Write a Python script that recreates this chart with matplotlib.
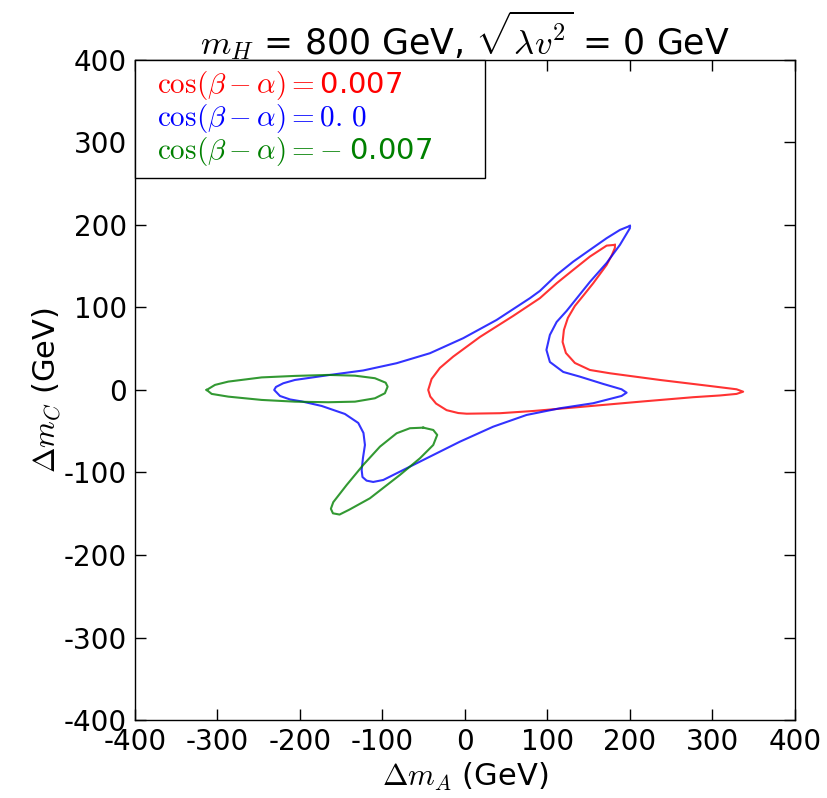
import numpy as np
import matplotlib
matplotlib.use('Agg')
import matplotlib.pyplot as plt

plt.rcParams['mathtext.fontset'] = 'cm'
plt.rcParams['axes.unicode_minus'] = False
plt.rcParams['font.family'] = 'DejaVu Sans'

# cos(beta-alpha) = 0.007 (closed curve)
red_x = [181.8, 171.8, 151.5, 131.3, 111.2, 90.9, 58.5, 18.2, -14.2, -30.3, -40.4, -44.5,
         -42, -35, -22.2, -8, 2.1, 42.4, 82.8, 135.4, 216.1, 276.7, 309.1, 329.3, 337.3, 329.3,
         297, 236.4, 175.8, 151.5, 133.3, 122.4, 118.4, 120, 124.8, 133.3, 144.2, 155.5,
         171.8, 178.2, 181.8, 181.8]
red_y = [175.8, 174.9, 161.6, 145.5, 129.3, 111.2, 89.7, 64.2, 40.4, 26.7, 13.3, 0,
         -8, -16.5, -24.5, -28, -28.8, -28.2, -25.5, -21, -13.9, -8.8, -6.7, -4.8, -2.1, 0.8,
         4.8, 12.1, 20.2, 24.2, 32.7, 44.8, 58.2, 72.7, 87.3, 101.8, 115.2, 129.3,
         151.5, 163.6, 172.1, 175.8]

# cos(beta-alpha) = 0.0 (closed curve)
blue_x = [200, 187.9, 171.8, 151.5, 131.3, 111.2, 90.9, 78.8, 38.4, -2.1, -42.4, -82.8,
          -123.3, -163.6, -206.1, -220.2, -229.1, -231.2, -224.2, -212.1, -197.9, -173.7,
          -145.5, -129.3, -123, -121.2, -123.6, -125.2, -124.2, -119.2, -111.2, -99, -78.8,
          -46.4, -6.1, 34.3, 74.8, 115.2, 155.5, 175.8, 189.9, 196, 189.9, 167.6, 139.4,
          119.2, 103, 98.8, 103, 111.2, 123.3, 151.5, 171.8, 187.9, 200, 200]
blue_y = [198.8, 193.9, 183.9, 169.7, 155.5, 139.4, 120, 111.2, 84.8, 62.7, 44.5, 32.4,
          23.6, 18.2, 12.1, 8.1, 3.6, 0, -7.3, -11.5, -13.9, -19.4,
          -29.1, -40, -52.1, -66.7, -82.4, -97, -105.5, -109.9, -111.5, -109.1, -99,
          -82.8, -62.7, -44.5, -30.3, -22.2, -16.1, -10.9, -7.3, -3.3, 0.8, 7.3, 16.1,
          21.8, 33.9, 48.5, 66.7, 82.4, 95.8, 130.9, 153.9, 175.8, 196, 198.8]

# cos(beta-alpha) = -0.007, two separate loops
green1_x = [-313.1, -303, -286.9, -246.4, -206.1, -165.7, -133.3, -109.1, -96.1, -93.7,
            -97, -109.1, -133.3, -165.7, -206.1, -246.4, -286.9, -307, -313.1]
green1_y = [0, 6.1, 10.1, 15.2, 17, 18.2, 17.3, 14.2, 8.8, 4,
            -4, -10.1, -14.2, -14.9, -14.2, -12.1, -8.1, -4.8, 0]
green2_x = [-50.5, -38.4, -33.6, -38.4, -54.5, -78.8, -115.2, -140, -152, -160, -162.5,
            -159.6, -143.4, -123.3, -103, -82.8, -66.7, -50.5]
green2_y = [-45.7, -48.5, -54.5, -66.7, -82.8, -103, -131.3, -145, -151, -149.5, -144,
            -136, -115.2, -90.9, -68.7, -52.5, -46.4, -45.7]

ticks = np.arange(-400, 401, 100)

fig = plt.figure(figsize=(8.28, 7.98), dpi=100)
ax = fig.add_axes([0.163, 0.0977, 0.797, 0.8273])

ax.plot(red_x, red_y, color='r', lw=1.5, alpha=0.8, label=r'$\cos(\beta-\alpha) = $0.007')
ax.plot(blue_x, blue_y, color='b', lw=1.5, alpha=0.8, label=r'$\cos(\beta-\alpha) = 0.\,0$')
ax.plot(green1_x, green1_y, color='g', lw=1.5, alpha=0.8, label=r'$\cos(\beta-\alpha) = -\;$0.007')
ax.plot(green2_x, green2_y, color='g', lw=1.5, alpha=0.8)

ax.set_xlim(-400, 400)
ax.set_ylim(-400, 400)
ax.set_xticks(ticks)
ax.set_yticks(ticks)
ax.tick_params(direction='in', top=True, right=True, length=8, width=1, labelsize=20, pad=6)
for s in ax.spines.values():
    s.set_linewidth(1)

ax.set_xlabel(r'$\Delta m_A$ (GeV)', fontsize=22, labelpad=3)
ax.set_ylabel(r'$\Delta m_C$ (GeV)', fontsize=22, labelpad=0)
ax.set_title(r'$m_H$ = 800 GeV, $\sqrt{\lambda v^2}$ = 0 GeV', fontsize=25, pad=4)

leg = ax.legend(loc='upper left', bbox_to_anchor=(0, 0, 0.53, 1), mode='expand',
                fontsize=21, handlelength=0.45, handletextpad=0,
                borderaxespad=0, fancybox=False, framealpha=1, edgecolor='k',
                labelspacing=0.0, borderpad=0.32)
leg.get_frame().set_linewidth(1)
for line, txt in zip(leg.get_lines(), leg.get_texts()):
    txt.set_color(line.get_color())
    line.set_visible(False)

fig.savefig('out.png', dpi=100)
